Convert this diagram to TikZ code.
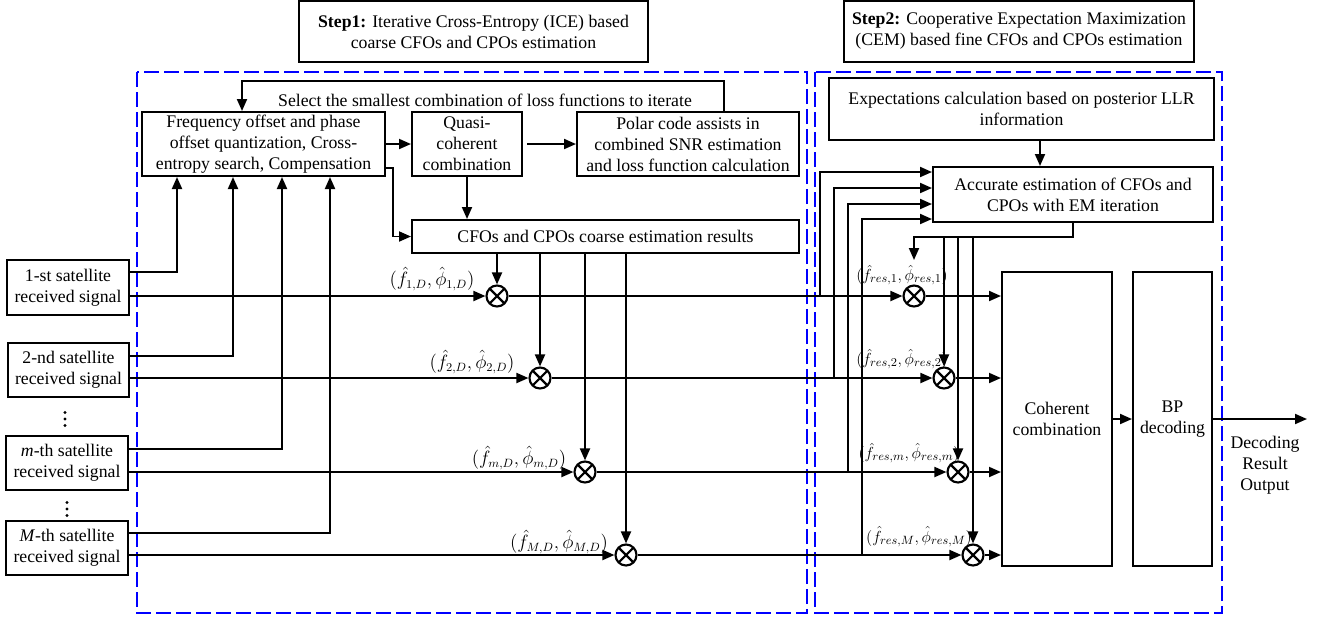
\documentclass[tikz,border=0pt]{standalone}
\usepackage{fontspec}
\setmainfont{Liberation Serif}
\usetikzlibrary{arrows.meta,calc}
\begin{document}
\begin{tikzpicture}[x=0.75pt,y=-0.75pt,
  font=\fontsize{13.3}{15.75}\selectfont,
  box/.style={draw,line width=1.5pt,align=center,inner sep=0pt},
  conn/.style={line width=1.45pt},
  arr/.style={conn,-{Triangle[length=9pt,width=7.5pt]}},
  mult/.style={circle,draw,line width=1.6pt,minimum size=15.75pt,inner sep=0pt,
    path picture={\draw[line width=1.6pt] (path picture bounding box.south west)--(path picture bounding box.north east) (path picture bounding box.north west)--(path picture bounding box.south east);}},
  grp/.style={draw=blue,line width=2pt,dash pattern=on 11pt off 4pt},
  lab/.style={inner sep=0pt},
  rlab/.style={inner sep=0pt,font=\fontsize{12.3}{14}\selectfont}
]
\useasboundingbox (0,0) rectangle (1320,622);

% headers
\node[box,minimum width=261.75pt,minimum height=45.75pt] (step1) at (473.5,31.5) {\textbf{Step1:} Iterative Cross-Entropy (ICE) based\\coarse CFOs and CPOs estimation};
\node[box,minimum width=262.5pt,minimum height=45.75pt] (step2) at (1019,31.5) {\textbf{Step2:} Cooperative Expectation Maximization\\(CEM) based fine CFOs and CPOs estimation};

% groups
\draw[grp] (137,72) rectangle (807,613);
\draw[grp] (815,72) rectangle (1222,613);

% step 1 blocks
\node[box,minimum width=182.25pt,minimum height=48pt] (freq) at (263.5,144) {Frequency offset and phase\\offset quantization, Cross-\\entropy search, Compensation};
\node[box,minimum width=82.5pt,minimum height=48pt] (quasi) at (467,144) {Quasi-\\coherent\\combination};
\node[box,minimum width=166.5pt,minimum height=48pt] (polar) at (688,144) {Polar code assists in\\combined SNR estimation\\and loss function calculation};
\node[box,minimum width=290.25pt,minimum height=24.75pt] (coarse) at (605.5,236.5) {CFOs and CPOs coarse estimation results};
\node (sel) at (485,100) {Select the smallest combination of loss functions to iterate};

% signal boxes
\node[box,minimum width=91.5pt,minimum height=41.25pt] (s1) at (68,287.5) {1-st satellite\\received signal};
\node[box,minimum width=90.75pt,minimum height=40.5pt] (s2) at (68.5,370) {2-nd satellite\\received signal};
\node[box,minimum width=91.5pt,minimum height=40.5pt] (s3) at (67,463) {\textit{m}-th satellite\\received signal};
\node[box,minimum width=91.5pt,minimum height=40.5pt] (s4) at (67,548) {\textit{M}-th satellite\\received signal};
\fill (65,412.5) circle (1.3pt) (65,419) circle (1.3pt) (65,425.5) circle (1.3pt);
\fill (67,502.5) circle (1.3pt) (67,509) circle (1.3pt) (67,515.5) circle (1.3pt);

% multipliers
\node[mult] (m1) at (497,296) {};
\node[mult] (m2) at (540,378) {};
\node[mult] (m3) at (585,472) {};
\node[mult] (m4) at (626,555) {};
\node[mult] (r1) at (914,296) {};
\node[mult] (r2) at (944,378) {};
\node[mult] (r3) at (958,472) {};
\node[mult] (r4) at (973,555) {};

% step 2 blocks
\node[box,minimum width=288.75pt,minimum height=46.5pt] (expect) at (1021.5,109) {Expectations calculation based on posterior LLR\\information};
\node[box,minimum width=210pt,minimum height=41.25pt] (accur) at (1073,194.5) {Accurate estimation of CFOs and\\CPOs with EM iteration};
\node[box,minimum width=82.5pt,minimum height=220.5pt] (coh) at (1057,419) {Coherent\\combination};
\node[box,minimum width=59.25pt,minimum height=220.5pt] (bp) at (1172.5,419) {BP\\decoding};
\coordinate (out) at (1307,419);
\node[align=center,inner sep=0pt] (outlbl) at (1265,465) {Decoding\\Result\\Output};

% labels
\node[lab] (l1) at (432,279) {$(\hat{f}_{1,D},\hat{\phi}_{1,D})$};
\node[lab] (l2) at (472,362) {$(\hat{f}_{2,D},\hat{\phi}_{2,D})$};
\node[lab] (l3) at (519,458) {$(\hat{f}_{m,D},\hat{\phi}_{m,D})$};
\node[lab] (l4) at (559,542) {$(\hat{f}_{M,D},\hat{\phi}_{M,D})$};
\node[rlab] (q1) at (902,275) {$(\hat{f}_{res,1},\hat{\phi}_{res,1})$};
\node[rlab] (q2) at (902,359) {$(\hat{f}_{res,2},\hat{\phi}_{res,2})$};
\node[rlab] (q3) at (909,453) {$(\hat{f}_{res,m},\hat{\phi}_{res,m})$};
\node[rlab] (q4) at (919,537) {$(\hat{f}_{res,M},\hat{\phi}_{res,M})$};

% step 1 connectors
\draw[arr] (freq.east) -- (quasi.west);
\draw[arr] ([xshift=3pt]quasi.east) -- (polar.west);
\draw[arr] (quasi.south) -- (quasi.south |- coarse.north);
\draw[arr] (freq.east |- 0,168) -- ++(7,0) |- (coarse.west);
\draw[arr] (polar.north -| 724,0) -- ++(0,-30) -| (freq.north -| 242,0);
\draw[arr] (s1.east |- 0,272) -| (freq.south -| 177,0);
\draw[arr] (s2.east |- 0,356) -| (freq.south -| 233,0);
\draw[arr] (s3.east |- 0,449) -| (freq.south -| 282,0);
\draw[arr] (s4.east |- 0,533) -| (freq.south -| 330,0);
\draw[arr] (coarse.south -| m1) -- (m1.north);
\draw[arr] (coarse.south -| m2) -- (m2.north);
\draw[arr] (coarse.south -| m3) -- (m3.north);
\draw[arr] (coarse.south -| m4) -- (m4.north);

% signal paths
\draw[arr] (s1.east |- m1) -- (m1.west);
\draw[arr] (s2.east |- m2) -- (m2.west);
\draw[arr] (s3.east |- m3) -- (m3.west);
\draw[arr] (s4.east |- m4) -- (m4.west);
\draw[arr] (m1.east) -- (r1.west);
\draw[arr] (m2.east) -- (r2.west);
\draw[arr] (m3.east) -- (r3.west);
\draw[arr] (m4.east) -- (r4.west);
\draw[arr] (r1.east) -- (coh.west |- r1);
\draw[arr] (r2.east) -- (coh.west |- r2);
\draw[arr] (r3.east) -- (coh.west |- r3);
\draw[arr] (r4.east) -- (coh.west |- r4);

% step 2 connectors
\draw[arr] (r1 -| 820,0) |- (accur.west |- 0,172);
\draw[arr] (r2 -| 834,0) |- (accur.west |- 0,188);
\draw[arr] (r3 -| 848,0) |- (accur.west |- 0,204);
\draw[arr] (r4 -| 862,0) |- (accur.west |- 0,219);
\draw[arr] (expect.south -| 1040,0) -- (accur.north -| 1040,0);
\coordinate (fb) at (914,260);
\draw[arr] (accur.south -| 1073,0) |- (fb |- 0,237) -- (fb);
\draw[arr] (r2 |- 0,237) -- (r2.north);
\draw[arr] (r3 |- 0,237) -- (r3.north);
\draw[arr] (r4 |- 0,237) -- (r4.north);
\draw[arr] (coh.east) -- (bp.west);
\draw[arr] (bp.east) -- (out);
\end{tikzpicture}
\end{document}
